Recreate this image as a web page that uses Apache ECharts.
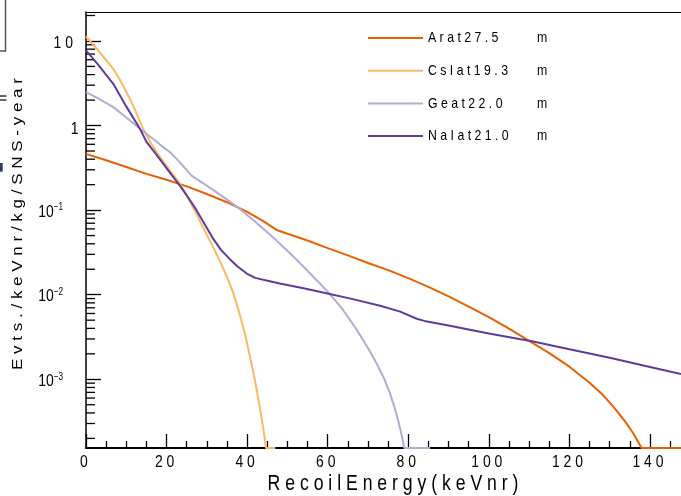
<!DOCTYPE html>
<html>
<head>
<meta charset="utf-8">
<script src="https://cdn.jsdelivr.net/npm/echarts@6/dist/echarts.min.js"></script>
<style>
  html, body { margin: 0; padding: 0; background: #fff; }
  #chart { width: 681px; height: 496px; }
</style>
</head>
<body>
<div id="chart"></div>
<script>
// Text is set in Liberation Sans squeezed horizontally (a narrow face)
const SANS = "'Liberation Sans', Arial, sans-serif";
const NARROW_SCALE = 0.82;

// Series
const seriesNames = ['Ar at 27.5 m', 'CsI at 19.3 m', 'Ge at 22.0 m', 'NaI at 21.0 m'];
const seriesColors = ['#e66101', '#fdb863', '#b2abd2', '#5e3c99'];

// Recoil energy (keVnr) and rate (evts / keVnr / kg / SNS-year) per detector
const arEnergy = [0, 5, 10, 15, 20, 25, 30, 35, 40, 44, 47.3, 50, 55, 60, 65, 70, 75, 80, 85, 90,
  95, 100, 105, 110, 115, 120, 125, 128, 131, 134, 136, 137.9, 147.7];
const arRate = [0.462, 0.389, 0.324, 0.268, 0.229, 0.191, 0.155, 0.124, 0.0955, 0.0741, 0.0583,
  0.0525, 0.0437, 0.0355, 0.0292, 0.0237, 0.0195, 0.0157, 0.0124, 0.00955, 0.00724, 0.00543,
  0.00398, 0.00285, 0.00204, 0.00141, 0.000912, 0.000676, 0.000468, 0.000309, 0.000224,
  0.000154, 0.000154];

const csiEnergy = [0, 3, 6.77, 9, 10.9, 12.5, 14.2, 16, 18.4, 20.8, 23.3, 25, 27, 29, 31.6, 33,
  34.9, 36.5, 37.4, 38.2, 39.5, 40.7, 41.6, 42.4, 43.2, 44.0, 44.7, 47];
const csiRate = [11.3, 7.76, 4.69, 3.09, 2.07, 1.41, 0.914, 0.631, 0.422, 0.295, 0.206, 0.148,
  0.0986, 0.0631, 0.0363, 0.0263, 0.0166, 0.0107, 0.00776, 0.00575, 0.00339, 0.00186, 0.00117,
  0.00074, 0.000447, 0.000263, 0.000154, 0.000154];

const geEnergy = [0, 3, 6.77, 10, 13.4, 15.06, 17, 19.2, 21, 22.5, 24.3, 26.2, 29, 32, 35, 38.2,
  41.5, 44.5, 47.3, 50.5, 54, 57.5, 60.5, 63.8, 67.2, 70, 72.1, 74, 75.4, 76.5, 77.5, 78.3, 79.0,
  85.4];
const geRate = [2.48, 2.09, 1.65, 1.245, 0.914, 0.796, 0.676, 0.553, 0.479, 0.404, 0.324, 0.256,
  0.209, 0.1675, 0.133, 0.1033, 0.0764, 0.0575, 0.0436, 0.0313, 0.0214, 0.01445, 0.01023, 0.0066,
  0.00385, 0.00234, 0.00155, 0.00102, 0.000692, 0.000479, 0.000324, 0.000226, 0.000154, 0.000154];

const naiEnergy = [0, 3, 6.77, 10.1, 13.4, 15.06, 17, 19.2, 21.2, 23.3, 25.5, 27.5, 29.5, 31.6,
  33.5, 35.7, 37.7, 39.9, 42, 44.8, 48.1, 54, 60.5, 66.5, 73, 78, 82.1, 84, 90.3, 100, 111, 120,
  130, 140, 147.7];
const naiRate = [7.73, 5.25, 3.11, 1.65, 0.914, 0.635, 0.484, 0.352, 0.263, 0.195, 0.138, 0.0986,
  0.0676, 0.0457, 0.0339, 0.0263, 0.0214, 0.0178, 0.0158, 0.0147, 0.0136, 0.0119, 0.0102,
  0.00881, 0.00741, 0.00631, 0.00519, 0.0049, 0.0043, 0.00347, 0.0028, 0.00226, 0.0018, 0.0014,
  0.00115];

// Axes
const xMin = 0, xMax = 147.7;
const yMin = 1.54e-4, yMax = 22;
const xTickValues = [0, 20, 40, 60, 80, 100, 120, 140];
const yTickValues = [1e-3, 1e-2, 1e-1, 1, 10];
const xTitle = 'Recoil Energy (keVnr)';
const yTitle = 'Evts. / keVnr / kg / SNS-year';

const xMinorTicks = [];
for (let v = 5; v < xMax; v += 5) if (v % 20 !== 0) xMinorTicks.push(v);
const yMinorTicks = [];
for (let e = -4; e <= 1; e++) {
  for (let m = 2; m <= 9; m++) {
    const v = m * Math.pow(10, e);
    if (v > yMin && v < yMax) yMinorTicks.push(v);
  }
}

const spread = s => Array.from(s).join(' ');
const spreadWords = s => s.split(' ').map(spread).join(' ');
const zip = (xs, ys) => xs.map((x, i) => [x, ys[i]]);
const seriesData = [zip(arEnergy, arRate), zip(csiEnergy, csiRate), zip(geEnergy, geRate), zip(naiEnergy, naiRate)];

const chart = echarts.init(document.getElementById('chart'), null, { renderer: 'canvas' });

const lineSeries = seriesNames.map((name, i) => ({
  name,
  type: 'line',
  data: seriesData[i],
  symbol: 'none',
  smooth: false,
  lineStyle: { color: seriesColors[i], width: 2 },
  itemStyle: { color: seriesColors[i] },
  z: 4
}));

// Decorations that do not depend on the axes
const baseGraphics = [
  {
    type: 'text', x: 18, y: 224, rotation: Math.PI / 2, scaleY: 0.85,
    style: { text: yTitle.split(' / ').map(spread).join(' / '), font: '17px ' + SANS,
      fill: '#000', align: 'center', verticalAlign: 'middle' }
  },
  {
    type: 'text', x: 393, y: 484, scaleX: NARROW_SCALE,
    style: { text: spreadWords(xTitle), font: '21.5px ' + SANS,
      fill: '#000', align: 'center', verticalAlign: 'middle' }
  },
  // pieces of the neighbouring panel at the left edge
  { type: 'polyline', shape: { points: [[5.5, 0], [5.5, 51], [0, 51]] },
    style: { stroke: '#555', lineWidth: 1.5, fill: null } },
  { type: 'line', shape: { x1: 0, y1: 96, x2: 6.5, y2: 96 }, style: { stroke: '#333', lineWidth: 1.5 } },
  { type: 'line', shape: { x1: 0, y1: 100, x2: 6.5, y2: 100 }, style: { stroke: '#333', lineWidth: 1.5 } },
  { type: 'rect', shape: { x: 0, y: 163, width: 2.7, height: 8.7 }, style: { fill: '#2b3b63' } }
];

// Legend: line sample, label, unit
const legendLeft = 368, legendTop = 38, legendStep = 32.7;
seriesNames.forEach((name, i) => {
  const y = legendTop + legendStep * i;
  const body = name.slice(0, -2).replace(/ /g, '');
  const unit = name.slice(-1);
  baseGraphics.push(
    { type: 'line', shape: { x1: legendLeft, y1: y, x2: legendLeft + 55, y2: y },
      style: { stroke: seriesColors[i], lineWidth: 2 } },
    { type: 'text', x: legendLeft + 60, y: y, scaleX: NARROW_SCALE,
      style: { text: spread(body), font: '15px ' + SANS, fill: '#000', align: 'left', verticalAlign: 'middle' } },
    { type: 'text', x: 537, y: y, scaleX: NARROW_SCALE,
      style: { text: unit, font: '15px ' + SANS, fill: '#000', align: 'left', verticalAlign: 'middle' } }
  );
});

chart.setOption({
  animation: false,
  backgroundColor: '#fff',
  grid: { left: 86, top: 12, right: 0, bottom: 48, containLabel: false },
  xAxis: [
    {
      type: 'value', min: xMin, max: xMax, position: 'bottom',
      axisLine: { show: true, onZero: false, lineStyle: { color: '#000', width: 2 } },
      axisTick: { show: true, inside: true, length: 14, customValues: xTickValues,
        lineStyle: { color: '#000', width: 1.3 } },
      axisLabel: { show: false },
      splitLine: { show: false }
    },
    {
      type: 'value', min: xMin, max: xMax, position: 'bottom',
      axisLine: { show: false },
      axisTick: { show: true, inside: true, length: 7, customValues: xMinorTicks,
        lineStyle: { color: '#000', width: 1.3 } },
      axisLabel: { show: false },
      splitLine: { show: false }
    },
    {
      type: 'value', min: xMin, max: xMax, position: 'top',
      axisLine: { show: true, onZero: false, lineStyle: { color: '#000', width: 1.2 } },
      axisTick: { show: false },
      axisLabel: { show: false },
      splitLine: { show: false }
    }
  ],
  yAxis: {
    type: 'log', logBase: 10, min: yMin, max: yMax,
    axisLine: { show: true, onZero: false, lineStyle: { color: '#000', width: 1.5 } },
    axisTick: { show: true, inside: true, length: 15, customValues: yTickValues,
      lineStyle: { color: '#000', width: 1.3 } },
    axisLabel: { show: false },
    splitLine: { show: false }
  },
  graphic: baseGraphics,
  series: lineSeries.concat([{
    type: 'custom',
    name: 'minorTicks',
    coordinateSystem: 'cartesian2d',
    xAxisIndex: 0, yAxisIndex: 0,
    silent: true,
    clip: false,
    z: 3,
    data: yMinorTicks.map(v => [xMin, v]),
    encode: { x: 0, y: 1 },
    renderItem: (params, api) => {
      const p = api.coord([api.value(0), api.value(1)]);
      return {
        type: 'line',
        shape: { x1: p[0], y1: p[1], x2: p[0] + 9, y2: p[1] },
        style: { stroke: '#000', lineWidth: 1.3 }
      };
    }
  }])
});

// Tick labels, placed through the axes' own scales
const axisBottom = chart.convertToPixel({ yAxisIndex: 0 }, yMin);
const axisLeft = chart.convertToPixel({ xAxisIndex: 0 }, xMin);
const labelGraphics = [];
xTickValues.forEach(v => {
  labelGraphics.push({
    type: 'text', x: chart.convertToPixel({ xAxisIndex: 0 }, v) - 2, y: axisBottom + 14.5,
    scaleX: NARROW_SCALE,
    style: { text: spread(String(v)), font: '17px ' + SANS, fill: '#000', align: 'center', verticalAlign: 'middle' }
  });
});
yTickValues.forEach(v => {
  const k = Math.round(Math.log10(v));
  const y = chart.convertToPixel({ yAxisIndex: 0 }, v);
  let text, right, dy = 2;
  if (k === 1) { text = '{b|1 0}'; right = axisLeft - 13; }
  else if (k === 0) { text = '{b|1}'; right = axisLeft - 7.5; dy = 4; }
  else { text = '{b|10}{e|\u2212' + (-k) + '}'; right = axisLeft - 23; }
  labelGraphics.push({
    type: 'text', x: right, y: y + dy, scaleX: NARROW_SCALE,
    style: {
      text, fill: '#000', align: 'right', verticalAlign: 'middle',
      rich: {
        b: { font: '17px ' + SANS, fill: '#000' },
        e: { font: '10px ' + SANS, fill: '#000', padding: [0, 0, 9, 0] }
      }
    }
  });
});

chart.setOption({ graphic: baseGraphics.concat(labelGraphics) });
</script>
</body>
</html>
